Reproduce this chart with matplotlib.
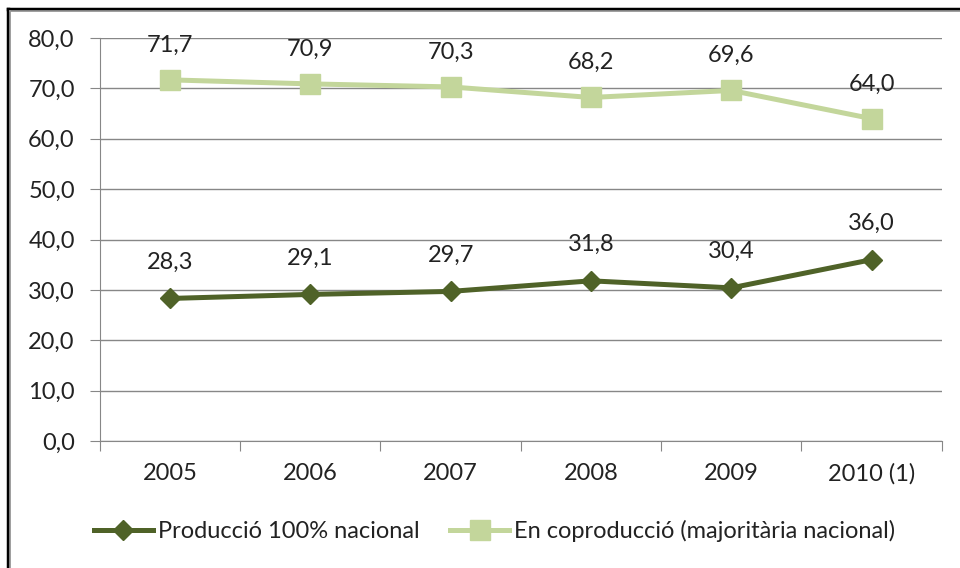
import matplotlib.pyplot as plt
from matplotlib.lines import Line2D

plt.rcParams['font.family'] = ['Lato', 'DejaVu Sans']

years = ["2005", "2006", "2007", "2008", "2009", "2010 (1)"]
nacional = [28.3, 29.1, 29.7, 31.8, 30.4, 36.0]
coproduccio = [71.7, 70.9, 70.3, 68.2, 69.6, 64.0]
yticks = [0, 10, 20, 30, 40, 50, 60, 70, 80]

dark = "#4F6228"
light = "#C3D69B"
grid = "#878787"
txt = "#222222"
fs = 17

fig = plt.figure(figsize=(9.6, 5.68), dpi=100)
ax = fig.add_axes([0.104, 0.2236, 0.877, 0.7094])

x = list(range(len(years)))
ax.plot(x, nacional, color=dark, lw=3.6, marker="D", ms=10, label="Producció 100% nacional")
ax.plot(x, coproduccio, color=light, lw=3.6, marker="s", ms=14, label="En coproducció (majoritària nacional)")

for xi, v in zip(x, nacional):
    ax.annotate(f"{v:.1f}".replace(".", ","), (xi, v), xytext=(0, 26), textcoords="offset points",
                ha="center", va="center", fontsize=fs, color=txt)
for xi, v in zip(x, coproduccio):
    ax.annotate(f"{v:.1f}".replace(".", ","), (xi, v), xytext=(0, 25), textcoords="offset points",
                ha="center", va="center", fontsize=fs, color=txt)

ax.set_ylim(0, 80)
ax.set_xlim(-0.5, len(years) - 0.5)
ax.set_yticks(yticks)
ax.set_yticklabels([f"{t:.1f}".replace(".", ",") for t in yticks], fontsize=fs, color=txt)
ax.yaxis.grid(True, color=grid, lw=1)
ax.set_axisbelow(True)

ax.set_xticks([i - 0.5 for i in range(len(years) + 1)])
ax.set_xticklabels([])
ax.set_xticks(x, minor=True)
ax.set_xticklabels(years, minor=True, fontsize=fs, color=txt)
ax.tick_params(axis="x", which="minor", length=0, pad=16)
ax.tick_params(axis="x", which="major", length=7, color=grid, direction="out")
ax.tick_params(axis="y", length=7, color=grid, pad=11)

for s in ["top", "right"]:
    ax.spines[s].set_visible(False)
for s in ["left", "bottom"]:
    ax.spines[s].set_color(grid)

leg = fig.legend(loc="center", bbox_to_anchor=(0.515, 0.065), ncol=2, frameon=False,
                 fontsize=fs, handlelength=2.5, handletextpad=0.2, columnspacing=1.3)
for t in leg.get_texts():
    t.set_color(txt)

# frame lines top/left
fig.add_artist(Line2D([0.0085, 1.0], [0.985, 0.985], color="black", lw=2.5, transform=fig.transFigure))
fig.add_artist(Line2D([0.0085, 0.0085], [0.0, 0.985], color="black", lw=2.5, transform=fig.transFigure))
fig.add_artist(Line2D([0.0105, 1.0], [0.981, 0.981], color="#999999", lw=1.2, transform=fig.transFigure))
fig.add_artist(Line2D([0.0105, 0.0105], [0.0, 0.981], color="#999999", lw=1.2, transform=fig.transFigure))

fig.savefig("out.png", dpi=100)
